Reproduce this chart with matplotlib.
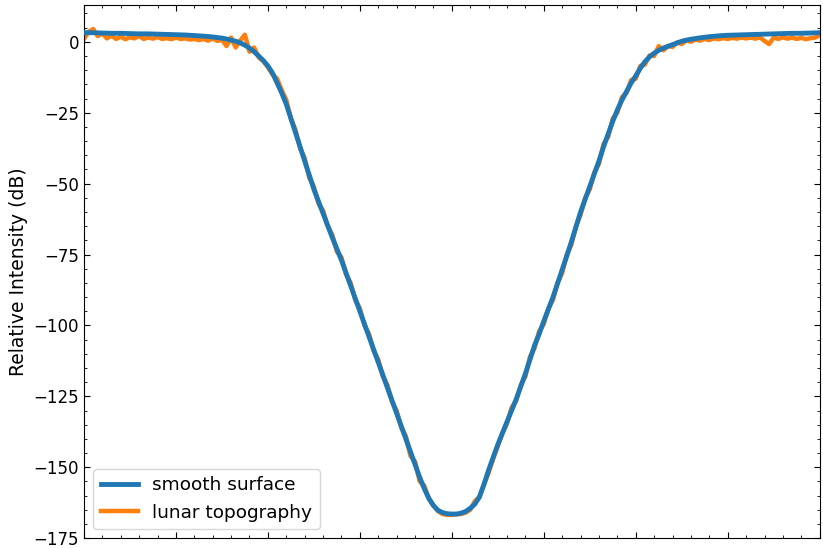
import numpy as np
import matplotlib
matplotlib.use("Agg")
import matplotlib.pyplot as plt

# smooth surface curve, sampled every 0.05 from -4 to 4
smooth_db = [
    3.2, 3.2, 3.2, 3.15, 3.1, 3.05, 3.0, 3.0, 3.0, 2.95,
    2.9, 2.85, 2.8, 2.8, 2.8, 2.75, 2.7, 2.65, 2.6, 2.55,
    2.5, 2.45, 2.4, 2.3, 2.2, 2.1, 2.0, 1.85, 1.7, 1.5,
    1.3, 1.0, 0.6, 0.2, -0.4, -1.2, -2.2, -3.5, -5.0, -6.6,
    -8.5, -11, -14.5, -18, -22, -27, -32, -37, -42, -47,
    -52, -56.2, -60.5, -64.8, -69, -73, -77, -81.5, -86, -90.5,
    -95, -99.5, -104, -108.5, -113, -117.5, -122, -126.5, -131, -135.5,
    -140, -144.5, -149, -153.5, -157.5, -161, -163.5, -165.2, -166, -166.4,
    -166.5, -166.5, -166.2, -165.6, -164.5, -163, -160.5, -156, -151, -146.5,
    -142, -138, -134, -130, -126, -121.5, -117, -112, -107, -103,
    -98.5, -94.2, -90, -85.2, -80.5, -75.5, -70.5, -65.2, -60, -55.5,
    -51, -46.5, -42, -37, -32.5, -28, -24, -20.5, -17.5, -14.5,
    -12, -9.3, -7, -5.3, -4, -3, -2.2, -1.6, -1.0, -0.4,
    0.2, 0.6, 0.9, 1.15, 1.4, 1.6, 1.8, 1.95, 2.1, 2.2,
    2.3, 2.35, 2.4, 2.45, 2.5, 2.55, 2.6, 2.65, 2.7, 2.75,
    2.8, 2.85, 2.9, 2.95, 3.0, 3.0, 3.0, 3.05, 3.1, 3.15,
    3.2,
]

# lunar topography curve, sampled every 0.05 from -4 to 4
lunar_db = [
    1.0, 3.5, 4.5, 2.0, 3.0, 1.2, 2.2, 1.0, 1.8, 0.9,
    1.6, 1.2, 2.0, 1.0, 1.5, 1.1, 1.7, 1.0, 1.3, 0.9,
    1.5, 1.0, 1.2, 0.8, 1.0, 0.6, 1.0, 0.4, 1.2, 0.3,
    0.8, -1.5, 1.5, -2.0, 0.5, 2.5, -3.5, -2.0, -5.5, -6.8,
    -9.0, -11.5, -13.0, -17, -20.5, -27, -31, -37.5, -41, -48,
    -51, -57, -59.5, -65, -68, -74, -76, -82, -85, -91,
    -94, -100, -103, -109, -112, -118, -121, -127, -130, -136,
    -139, -146, -148, -155, -156.5, -161, -163.5, -165.5, -166.5, -166.8,
    -166.8, -166.6, -166.5, -166, -165, -162, -160.5, -156, -152, -147,
    -142.5, -138, -134.5, -129, -126.5, -121, -118, -111, -108, -102,
    -99.5, -94, -91, -85, -81.5, -75, -71.5, -65, -61, -55,
    -52, -46, -43, -36, -33.5, -27, -25, -19.5, -18, -13.5,
    -13, -8.5, -8, -4.8, -5, -1.5, -3, -1.5, -1.8, -0.2,
    -0.8, 0.5, 0.0, 0.8, 0.4, 1.0, 0.6, 1.2, 0.9, 1.3,
    1.0, 1.4, 1.1, 1.5, 1.2, 1.5, 1.1, 1.6, 0.3, -0.8,
    1.5, 1.0, 1.6, 1.1, 1.5, 1.0, 1.4, 0.9, 1.3, 1.5,
    2.3,
]

x_smooth = np.linspace(-4, 4, len(smooth_db))
x_lunar = np.linspace(-4, 4, len(lunar_db))

plt.rcParams['font.size'] = 12

fig = plt.figure(figsize=(8.23, 5.48), dpi=100)
ax = fig.add_axes([0.102, 0.018, 0.894, 0.973])

ax.plot(x_smooth, smooth_db, color='#1f77b4', lw=3.5, label='smooth surface', zorder=3)
ax.plot(x_lunar, lunar_db, color='#ff7f0e', lw=3.2, label='lunar topography', zorder=2)

ax.set_xlim(-4, 4)
ax.set_ylim(-175, 13)
ax.set_yticks([0, -25, -50, -75, -100, -125, -150, -175])
ax.set_ylabel('Relative Intensity (dB)', fontsize=13.5)
ax.minorticks_on()
ax.tick_params(which='both', direction='in', top=True, right=True, labelbottom=False)
ax.tick_params(which='major', length=4.5)
ax.tick_params(which='minor', length=2.5)

ax.legend(loc='lower left', fontsize=13.3)

fig.savefig('out.png', dpi=100)
